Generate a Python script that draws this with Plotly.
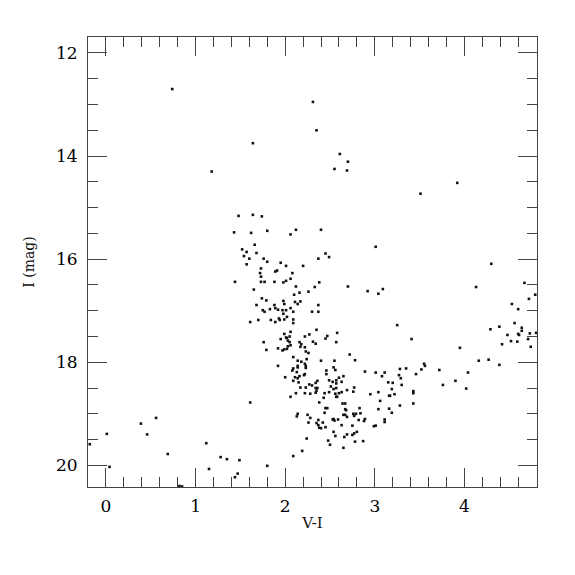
import plotly.graph_objects as go

# V-I colour and I magnitude of each star
v_i = [
    0.74, 1.18, 2.31, 2.35, 1.64, 2.61, 2.70, 2.55, 2.69, 3.92,
    3.51, 4.30, 4.13, 4.67, 4.79, 4.72, 4.53, 4.60, 3.25, 4.56,
    4.39, 4.29, 4.64, 4.64, 4.48, 4.60, 4.61, 4.73, 4.80, 3.41,
    4.71, 1.48, 1.43, 1.44,
    -0.18, 0.01, 0.04, 0.39, 0.46, 0.56, 0.69, 0.82, 0.85, 1.12,
    1.15, 1.28, 1.35, 1.49, 1.47, 1.44,
    1.61, 1.80, 2.09, 2.19, 2.24, 2.50, 2.48, 2.65, 2.78, 2.87,
    1.64, 1.74, 2.12, 2.40, 1.62, 1.80, 2.06, 3.01, 1.66, 1.52,
    1.57, 1.54, 1.68, 1.60, 1.57, 2.45, 2.49, 2.37, 1.76, 1.80,
    1.95, 2.01, 2.20, 1.73, 1.72, 1.89, 1.91, 2.08, 1.73, 2.06,
    1.73, 1.77, 1.88, 2.01, 1.98, 2.38, 2.33, 2.12, 2.70, 2.92,
    3.09, 3.04, 1.65, 2.26, 2.16, 2.10, 1.74, 1.79, 1.98, 2.17,
    2.14, 2.11, 1.99, 1.68, 1.88, 2.37, 2.06, 1.89, 1.92, 1.83,
    1.97, 2.01, 1.75, 1.77, 2.09, 2.30, 2.37, 1.98, 2.02, 1.93,
    1.94, 1.99, 1.84, 1.89, 1.70, 1.61, 2.09, 2.09, 2.35, 2.06,
    1.99, 2.01, 2.02, 2.05, 1.95, 2.22, 2.27, 2.45, 2.47, 2.58,
    1.76, 1.79, 1.92, 1.97, 1.99, 2.02, 2.03, 2.06, 2.05, 2.03,
    2.16, 2.18, 2.17, 2.22, 2.23, 2.26, 2.31, 2.34, 2.57,
    1.92, 2.09, 2.14, 2.18, 2.24, 2.22, 2.40, 2.55, 2.72, 2.78,
    2.14, 2.14, 2.09, 2.08, 2.23, 2.23, 2.46, 2.46, 2.54, 2.56,
    2.89, 3.01, 3.11, 3.08, 2.13, 2.11, 2.14, 2.16, 2.21, 2.22,
    2.00, 2.09, 2.15, 2.36, 2.34, 2.30, 2.27, 2.23, 2.34, 2.36,
    2.35, 2.49, 2.53, 2.57, 2.57, 2.60, 2.65, 2.63, 2.51, 2.54,
    2.57, 2.77, 2.76, 2.69, 2.63, 2.60, 2.58, 2.57, 2.56, 2.49,
    2.44, 2.43, 2.38, 2.06, 2.12, 2.17, 2.22, 2.28, 2.34, 2.95,
    3.04, 3.06, 3.16, 2.64, 2.67, 2.68, 2.67, 2.65, 2.67, 2.69,
    2.45, 2.47, 2.44, 2.54, 2.55, 2.83, 2.79, 2.76, 2.77, 2.84,
    2.82, 2.89, 2.88, 3.04, 3.16, 3.11, 3.11, 3.01, 2.99, 2.14,
    2.13, 2.25, 2.28, 2.26, 2.37, 2.35, 2.37, 2.38, 2.40, 2.42,
    2.45, 2.53, 2.59, 2.63, 2.54, 2.56, 2.75, 2.80, 2.77, 2.75,
    2.69, 2.66,
    3.95, 4.42, 4.52, 4.59, 4.74, 4.16, 4.27, 4.39, 4.04, 3.90,
    4.02, 3.76, 3.72, 3.55, 3.56, 3.52, 3.46, 3.35, 3.28, 3.27,
    3.29, 3.30, 3.15, 3.20, 3.19, 3.17, 3.22, 3.43, 3.43, 3.43,
    3.28, 3.19,
]
i_mag = [
    12.70, 14.30, 12.95, 13.50, 13.75, 13.96, 14.11, 14.25, 14.28, 14.52,
    14.73, 16.09, 16.54, 16.46, 16.69, 16.77, 16.87, 16.97, 17.28, 17.24,
    17.31, 17.36, 17.33, 17.39, 17.47, 17.45, 17.47, 17.44, 17.43, 17.55,
    17.55, 15.16, 15.48, 16.44,
    19.59, 19.39, 20.03, 19.19, 19.40, 19.08, 19.78, 20.40, 20.41, 19.57,
    20.07, 19.84, 19.88, 19.90, 20.16, 20.23,
    18.78, 20.01, 19.82, 19.72, 19.48, 19.60, 19.52, 19.66, 19.54, 19.53,
    15.14, 15.17, 15.43, 15.43, 15.49, 15.45, 15.52, 15.76, 15.72, 15.81,
    15.86, 15.94, 15.88, 15.99, 16.10, 15.89, 15.96, 15.99, 15.99, 16.05,
    16.07, 16.13, 16.13, 16.18, 16.27, 16.24, 16.22, 16.27, 16.34, 16.38,
    16.44, 16.44, 16.44, 16.42, 16.45, 16.45, 16.54, 16.53, 16.53, 16.62,
    16.58, 16.67, 16.59, 16.63, 16.65, 16.69, 16.76, 16.80, 16.81, 16.82,
    16.87, 16.83, 16.87, 16.89, 16.89, 16.89, 16.95, 16.95, 16.98, 16.97,
    16.99, 16.99, 16.99, 17.02, 17.02, 17.02, 17.02, 17.06, 17.12, 17.15,
    17.18, 17.17, 17.18, 17.22, 17.18, 17.22, 17.17, 17.24, 17.37, 17.41,
    17.45, 17.52, 17.53, 17.50, 17.55, 17.50, 17.46, 17.54, 17.49, 17.43,
    17.61, 17.76, 17.73, 17.77, 17.75, 17.74, 17.69, 17.67, 17.61, 17.58,
    17.61, 17.65, 17.70, 17.71, 17.79, 17.82, 17.60, 17.64, 17.61,
    18.07, 17.90, 17.97, 17.99, 17.94, 18.03, 17.97, 17.97, 17.85, 17.96,
    18.07, 18.10, 18.12, 18.16, 18.07, 18.11, 18.16, 18.23, 18.10, 18.15,
    18.18, 18.20, 18.20, 18.27, 18.19, 18.29, 18.31, 18.27, 18.25, 18.23,
    18.29, 18.36, 18.39, 18.36, 18.40, 18.45, 18.43, 18.49, 18.50, 18.50,
    18.55, 18.35, 18.38, 18.35, 18.41, 18.30, 18.27, 18.38, 18.47, 18.52,
    18.50, 18.49, 18.57, 18.54, 18.58, 18.60, 18.67, 18.67, 18.61, 18.58,
    18.60, 18.69, 18.78, 18.67, 18.60, 18.49, 18.60, 18.61, 18.59, 18.62,
    18.58, 18.75, 18.65, 18.80, 18.80, 18.93, 18.91, 19.02, 19.02, 19.06,
    18.89, 18.89, 18.98, 19.10, 19.13, 18.89, 19.00, 19.00, 19.04, 18.99,
    19.12, 19.10, 19.14, 18.91, 18.90, 19.11, 19.16, 19.23, 19.24, 19.00,
    19.05, 19.02, 19.08, 19.17, 19.12, 19.18, 19.22, 19.27, 19.28, 19.17,
    19.26, 19.11, 19.11, 19.22, 19.35, 19.43, 19.23, 19.35, 19.38, 19.41,
    19.40, 19.45,
    17.72, 17.65, 17.59, 17.60, 17.70, 17.97, 17.95, 18.05, 18.20, 18.36,
    18.51, 18.44, 18.15, 18.03, 18.07, 18.14, 18.23, 18.12, 18.13, 18.25,
    18.31, 18.44, 18.39, 18.40, 18.52, 18.65, 18.62, 18.60, 18.56, 18.80,
    18.84, 18.98,
]

x_ticks = [0, 1, 2, 3, 4]
y_ticks = [12, 14, 16, 18, 20]
x_title = "V-I"
y_title = "I (mag)"

fig = go.Figure()
fig.add_trace(go.Scatter(
    x=v_i, y=i_mag, mode="markers",
    marker=dict(symbol="square", size=2.6, color="#111111", line=dict(width=0)),
    showlegend=False, hoverinfo="skip",
))

axis_common = dict(
    showgrid=False, zeroline=False, showline=True, linecolor="#444444", linewidth=1,
    mirror="allticks", ticks="inside", ticklen=19, tickwidth=1, tickcolor="#444444",
    tickfont=dict(family="DejaVu Serif", size=17, color="#000000"),
)

fig.update_xaxes(
    range=[-0.2, 4.81], tickmode="array", tickvals=x_ticks,
    ticktext=[str(t) for t in x_ticks],
    minor=dict(ticks="inside", ticklen=10, dtick=0.2, tick0=0, tickcolor="#444444", showgrid=False),
    title=dict(text=x_title, font=dict(family="DejaVu Serif", size=15, color="#111111"), standoff=2),
    ticklabelstandoff=4,
    **axis_common,
)
fig.update_yaxes(
    range=[20.42, 11.69], tickmode="array", tickvals=y_ticks,
    ticktext=[str(t) for t in y_ticks],
    minor=dict(ticks="inside", ticklen=10, dtick=0.5, tick0=0, tickcolor="#444444", showgrid=False),
    title=dict(text=y_title, font=dict(family="DejaVu Serif", size=14, color="#111111"), standoff=18),
    ticklabelstandoff=6,
    **axis_common,
)

fig.update_layout(
    width=575, height=575,
    margin=dict(l=80, r=46, t=29, b=96, autoexpand=False),
    paper_bgcolor="white", plot_bgcolor="white",
)

fig.write_html("out.html")
